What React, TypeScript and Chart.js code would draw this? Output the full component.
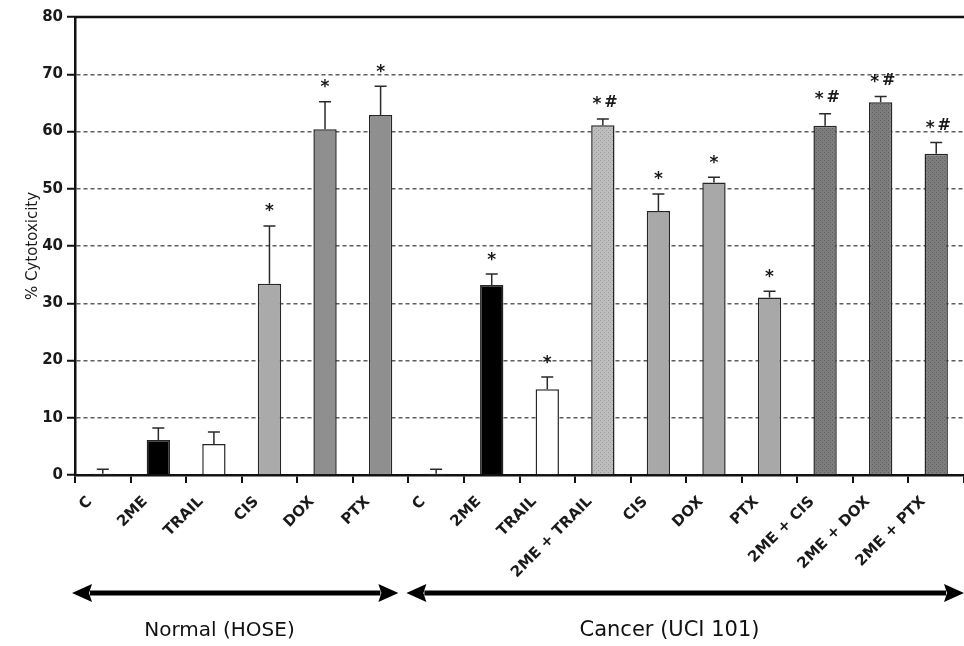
import React, { useEffect, useRef } from 'react';
import { Chart, registerables } from 'chart.js';

Chart.register(...registerables);

// ---- data ----
const categories = ['C', '2ME', 'TRAIL', 'CIS', 'DOX', 'PTX', 'C', '2ME', 'TRAIL', '2ME + TRAIL', 'CIS', 'DOX', 'PTX', '2ME + CIS', '2ME + DOX', '2ME + PTX'];
const cytotoxicity = [0.2, 6.1, 5.4, 33.4, 60.4, 62.9, 0.2, 33.2, 15.0, 61.1, 46.1, 51.1, 31.0, 61.0, 65.1, 56.1];
const errorUpper = [0.8, 2.1, 2.1, 10.1, 4.8, 5.0, 0.8, 1.9, 2.1, 1.1, 3.0, 0.9, 1.1, 2.1, 1.0, 2.0];
const significance = ['', '', '', '*', '*', '*', '', '*', '*', '*#', '*', '*', '*', '*#', '*#', '*#'];
const groupLabels = ['Normal (HOSE)', 'Cancer (UCI 101)'];
const groupSizes = [6, 10];
const yMin = 0;
const yMax = 80;
const yStep = 10;
const yTitle = '% Cytotoxicity';

// ---- styles ----
const barFills = ['#ffffff', '#000000', '#ffffff', '#aaaaaa', '#8f8f8f', '#8f8f8f', '#ffffff', '#000000', '#ffffff', '#bdbdbd', '#a8a8a8', '#a8a8a8', '#a8a8a8', '#7d7d7d', '#7d7d7d', '#7d7d7d'];
const barDots = ['', '', '', '', '', '', '', '', '', '#9a9a9a', '', '', '', '#5f5f5f', '#5f5f5f', '#5f5f5f'];
const FONT = '"DejaVu Sans", "Liberation Sans", sans-serif';

function makeFill(base: string, dot: string): string | CanvasPattern {
  if (!dot) return base;
  const c = document.createElement('canvas');
  c.width = 4;
  c.height = 4;
  const g = c.getContext('2d')!;
  g.fillStyle = base;
  g.fillRect(0, 0, 4, 4);
  g.fillStyle = dot;
  g.fillRect(0, 0, 1, 1);
  g.fillRect(2, 2, 1, 1);
  const p = g.createPattern(c, 'repeat');
  return p || base;
}

function drawArrow(ctx: CanvasRenderingContext2D, x1: number, x2: number, y: number) {
  const head = 20;
  const half = 9;
  ctx.beginPath();
  ctx.moveTo(x1 + head - 2, y);
  ctx.lineTo(x2 - head + 2, y);
  ctx.stroke();
  ctx.beginPath();
  ctx.moveTo(x1, y);
  ctx.lineTo(x1 + head, y - half);
  ctx.lineTo(x1 + head - 3, y);
  ctx.lineTo(x1 + head, y + half);
  ctx.closePath();
  ctx.fill();
  ctx.beginPath();
  ctx.moveTo(x2, y);
  ctx.lineTo(x2 - head, y - half);
  ctx.lineTo(x2 - head + 3, y);
  ctx.lineTo(x2 - head, y + half);
  ctx.closePath();
  ctx.fill();
}

const annotations = {
  id: 'annotations',
  afterDatasetsDraw(chart: any) {
    const { ctx } = chart;
    const y = chart.scales.y;
    const meta = chart.getDatasetMeta(0);
    ctx.save();
    ctx.strokeStyle = '#2a2a2a';
    ctx.lineWidth = 1.5;
    meta.data.forEach((bar: any, i: number) => {
      const cx = bar.x;
      const top = y.getPixelForValue(cytotoxicity[i]);
      const et = y.getPixelForValue(cytotoxicity[i] + errorUpper[i]);
      ctx.beginPath();
      ctx.moveTo(cx, top);
      ctx.lineTo(cx, et);
      ctx.moveTo(cx - 6, et);
      ctx.lineTo(cx + 6, et);
      ctx.stroke();
      const s = significance[i];
      if (s) {
        const cy = et - 18;
        const chars = s.split('');
        chars.forEach((ch, k) => {
          ctx.font = ch === '*' ? `bold 17px ${FONT}` : `bold 16px ${FONT}`;
          const m = ctx.measureText(ch);
          const base = cy + (m.actualBoundingBoxAscent - m.actualBoundingBoxDescent) / 2;
          const px = chars.length === 1 ? cx : cx + (k === 0 ? -6 : 8);
          ctx.fillStyle = '#1a1a1a';
          ctx.textAlign = 'center';
          ctx.textBaseline = 'alphabetic';
          ctx.fillText(ch, px, base);
        });
      }
    });
    ctx.restore();
  },
  afterDraw(chart: any) {
    const { ctx, chartArea } = chart;
    const x = chart.scales.x;
    const y = chart.scales.y;
    ctx.save();
    // solid top line at max
    ctx.strokeStyle = '#111';
    ctx.lineWidth = 2.5;
    const yt = y.getPixelForValue(yMax);
    ctx.beginPath();
    ctx.moveTo(chartArea.left - 1, yt);
    ctx.lineTo(chartArea.right, yt);
    ctx.stroke();
    // group arrows + labels
    const boundary = x.getPixelForValue(groupSizes[0] - 0.5);
    const arrowY = chartArea.bottom + 118;
    ctx.strokeStyle = '#000';
    ctx.fillStyle = '#000';
    ctx.lineWidth = 5;
    drawArrow(ctx, chartArea.left - 3, boundary - 10, arrowY);
    drawArrow(ctx, boundary - 2, chartArea.right, arrowY);
    ctx.font = `20px ${FONT}`;
    ctx.fillStyle = '#111';
    ctx.textAlign = 'center';
    ctx.textBaseline = 'middle';
    ctx.fillText(groupLabels[0], x.getPixelForValue(2.1), arrowY + 38);
    ctx.font = `21px ${FONT}`;
    ctx.fillText(groupLabels[1], x.getPixelForValue(10.2), arrowY + 38);
    ctx.restore();
  },
};

export default function App() {
  const ref = useRef<HTMLCanvasElement | null>(null);
  useEffect(() => {
    if (!ref.current) return;
    const fills = barFills.map((b, i) => makeFill(b, barDots[i]));
    const chart = new Chart(ref.current, {
      type: 'bar',
      data: {
        labels: categories,
        datasets: [
          {
            data: cytotoxicity,
            backgroundColor: fills as any,
            borderColor: '#262626',
            borderWidth: 1.5,
            barPercentage: 0.42,
            categoryPercentage: 1,
          },
        ],
      },
      options: {
        responsive: false,
        animation: false,
        layout: { padding: { top: 17, right: 0, bottom: 0, left: 0 } },
        plugins: { legend: { display: false }, tooltip: { enabled: false } },
        scales: {
          x: {
            grid: { offset: true, drawOnChartArea: false, color: '#111', lineWidth: 2, tickLength: 8 },
            border: { display: true, color: '#111', width: 2.5 },
            ticks: {
              autoSkip: false,
              minRotation: 45,
              maxRotation: 45,
              labelOffset: -13,
              padding: 10,
              color: '#1a1a1a',
              font: { family: FONT, weight: 'bold', size: 15 },
            },
            afterFit: (s: any) => {
              s.height = 171;
            },
          },
          y: {
            min: yMin,
            max: yMax,
            ticks: {
              stepSize: yStep,
              padding: 4,
              color: '#1a1a1a',
              font: { family: FONT, weight: 'bold', size: 15 },
            },
            grid: {
              color: (c: any) => (c.tick && (c.tick.value === yMin || c.tick.value === yMax) ? 'rgba(0,0,0,0)' : '#5e5e5e'),
              lineWidth: 1.5,
              tickColor: '#111',
              tickLength: 8,
              tickWidth: 2,
            },
            border: { display: true, color: '#111', width: 2.5, dash: [4, 3] },
            title: {
              display: true,
              text: yTitle,
              color: '#1a1a1a',
              font: { family: FONT, size: 15 },
              padding: { top: 24, bottom: 0 },
            },
            afterFit: (s: any) => {
              s.width = 75;
            },
          },
        },
      },
      plugins: [annotations],
    });
    return () => chart.destroy();
  }, []);
  return (
    <div style={{ position: 'absolute', left: 0, top: 0, width: 964, height: 646, background: '#fff' }}>
      <canvas ref={ref} width={964} height={646} style={{ display: 'block' }} />
    </div>
  );
}
